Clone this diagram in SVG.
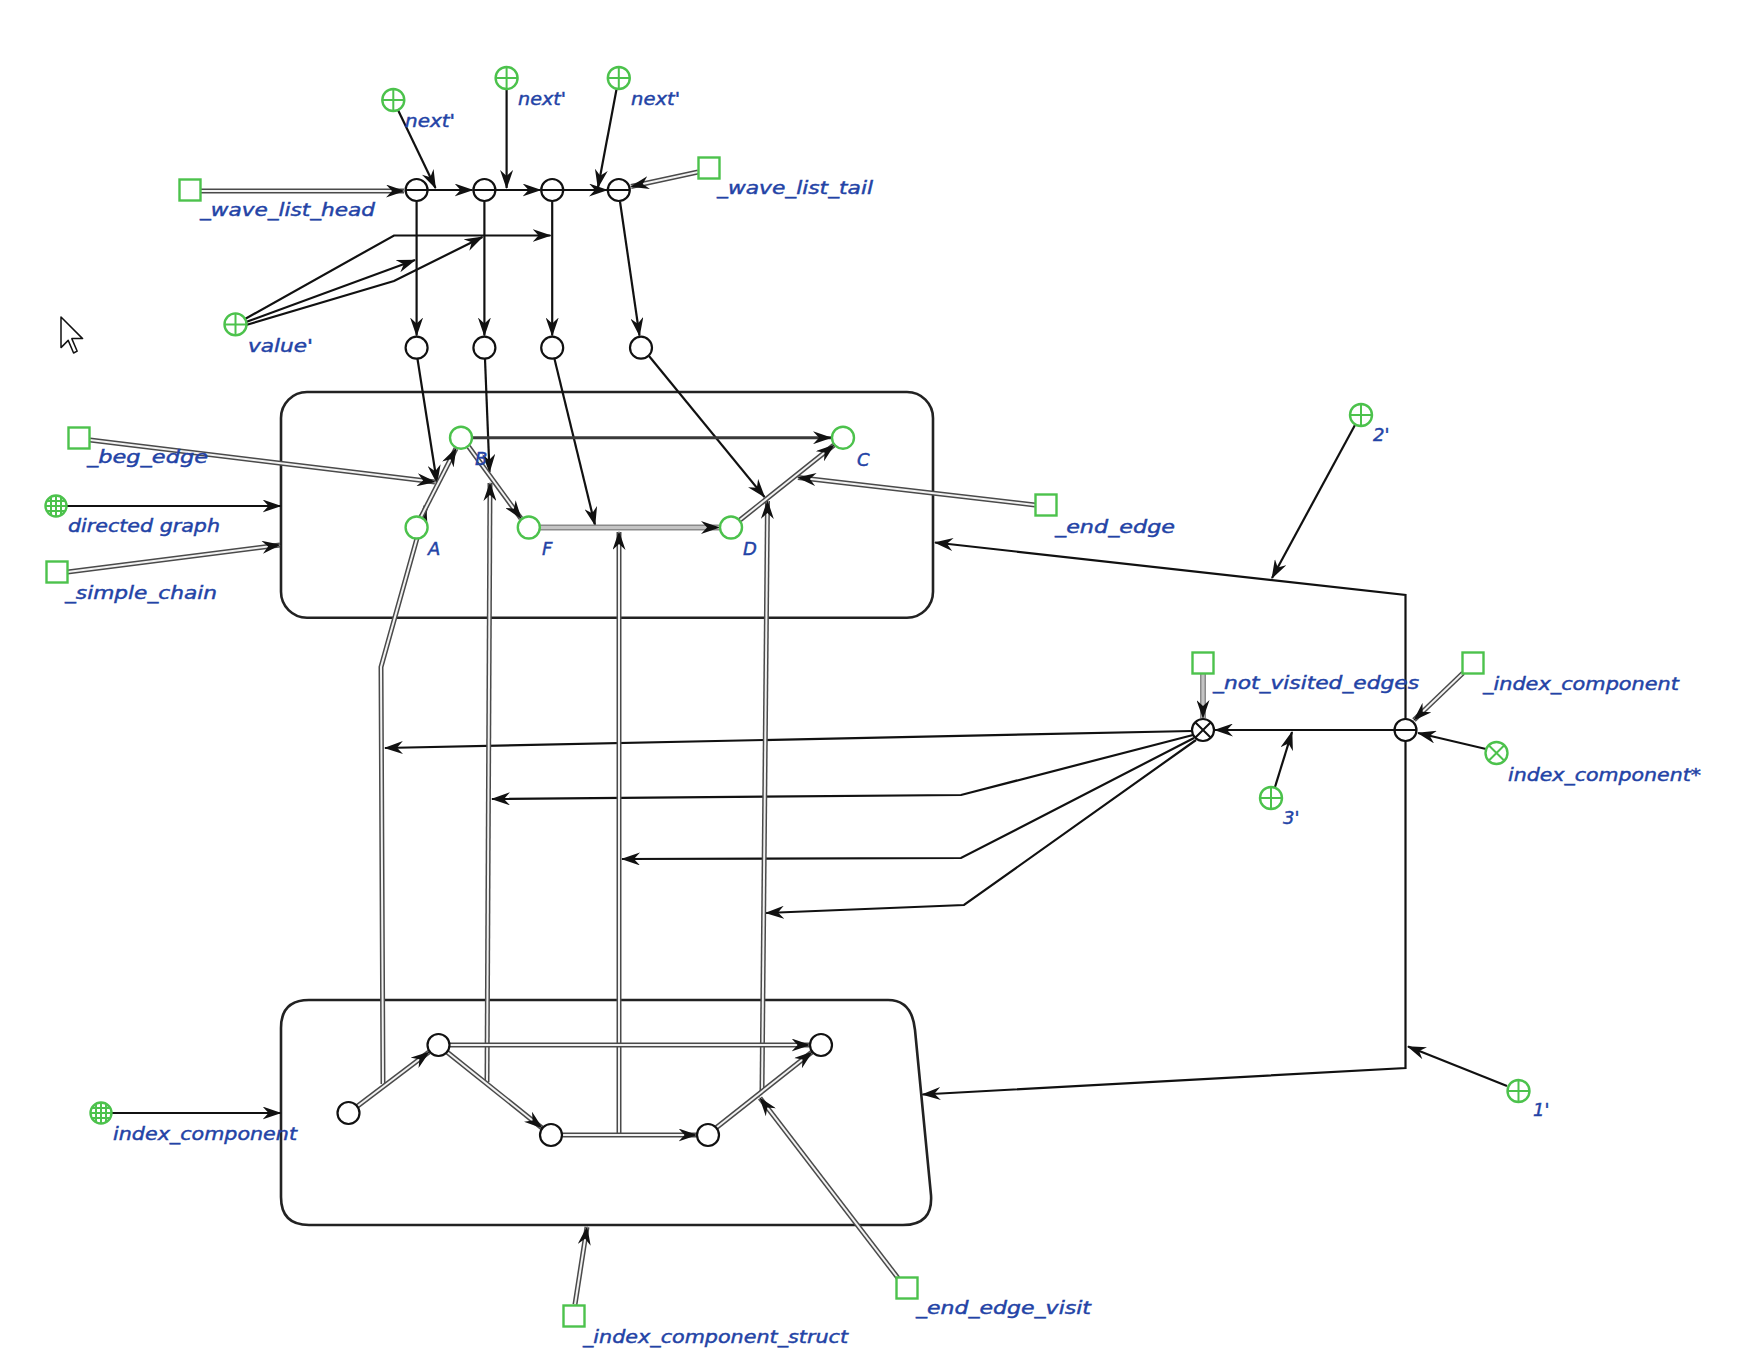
<svg xmlns="http://www.w3.org/2000/svg" xmlns:xlink="http://www.w3.org/1999/xlink" width="1742" height="1366" viewBox="0 0 1742 1366">
<style>
  .gs{fill:#fff;stroke:#4cc24c;stroke-width:2.4}
  .gl{fill:none;stroke:#4cc24c;stroke-width:2}
  .ks{fill:#fff;stroke:#111;stroke-width:2.2}
  .kl{fill:none;stroke:#111;stroke-width:2}
  .box{fill:none;stroke:#222;stroke-width:2.6}
  .lbl{font-family:"DejaVu Sans","Liberation Sans",sans-serif;font-style:italic;font-size:18px;fill:#2343a6;stroke:#2343a6;stroke-width:0.45}
  .arc{fill:none;stroke:#111;stroke-width:2.2;marker-end:url(#ah)}
  .thick{fill:none;stroke:#3a3a3a;stroke-width:3;marker-end:url(#ah)}
  .gO{fill:none;stroke:#8a8a8a;stroke-width:6}
  .gI{fill:none;stroke:#c4c4c4;stroke-width:3}
  .dO{fill:none;stroke:#4a4a4a;stroke-width:5}
  .dI{fill:none;stroke:#f2f2f2;stroke-width:2}
  .mk{fill:none;stroke:none;marker-end:url(#ah)}
</style>
<defs>
  <marker id="ah" markerUnits="userSpaceOnUse" markerWidth="19" markerHeight="13" viewBox="0 0 19 13" refX="18" refY="6.5" orient="auto">
    <path d="M0,0 L19,6.5 L0,13 L6,6.5 Z" fill="#111"/>
  </marker>
  <!-- node glyphs, centred on 0,0 -->
  <g id="i-plus"><circle r="11" class="gs"/><path d="M-11,0H11M0,-11V11" class="gl"/></g>
  <g id="i-xg"><circle r="11" class="gs"/><path d="M-7.8,-7.8L7.8,7.8M-7.8,7.8L7.8,-7.8" class="gl"/></g>
  <g id="i-globe"><circle r="10.5" class="gs"/><path d="M-10.5,0H10.5M0,-10.5V10.5M-9.2,-5H9.2M-9.2,5H9.2M-5,-9.2V9.2M5,-9.2V9.2" class="gl" stroke-width="1.4"/></g>
  <g id="i-sq"><rect x="-10.5" y="-10.5" width="21" height="21" class="gs"/></g>
  <g id="i-ring"><circle r="11" class="gs"/></g>
  <g id="i-minus"><circle r="11" class="ks"/><path d="M-11,0H11" class="kl"/></g>
  <g id="i-xk"><circle r="11" class="ks"/><path d="M-7.8,-7.8L7.8,7.8M-7.8,7.8L7.8,-7.8" class="kl"/></g>
  <g id="i-o"><circle r="11" class="ks"/></g>
  <!-- double-line connector paths -->
  <path id="d1" d="M200.5,191 H404"/>
  <path id="d2" d="M698,172 L631,186.5"/>
  <path id="d3" d="M90,440 L435,482"/>
  <path id="d4" d="M67.5,572 L280,545"/>
  <path id="d5" d="M1035,505 L798,477.5"/>
  <path id="d6" d="M421,517 L456,448.5"/>
  <path id="d7" d="M468.5,446.5 L521,518.5"/>
  <path id="d8" d="M740,520 L834,445"/>
  <path id="d9" d="M357,1106.5 L429,1052"/>
  <path id="d10" d="M447,1052 L542,1128"/>
  <path id="d11" d="M450,1045 H809.5"/>
  <path id="d12" d="M562.5,1135 H696.5"/>
  <path id="d13" d="M716.5,1127.5 L812,1052"/>
  <path id="d14" d="M575,1304.5 L587,1227"/>
  <path id="d15" d="M898,1278 L760,1098"/>
  <path id="d16" d="M383,1084 L381,667 L426,506"/>
  <path id="d17" d="M487,1082 L490,483"/>
  <path id="d18" d="M619,1133 V532"/>
  <path id="d19" d="M762,1092 L767.5,501"/>
  <path id="d20" d="M1463,673 L1414,720"/>
  <path id="g1" d="M540,527.5 H719"/>
  <path id="g2" d="M1203,674 V718"/>
</defs>

<rect width="1742" height="1366" fill="#fff"/>

<!-- containers -->
<g id="graph-box"><rect x="281" y="392" width="652" height="225.7" rx="26" class="box"/></g>
<g id="component-box"><path d="M309,1000 L888,1000 Q912,1000 915,1030 L931,1195 Q933,1225 903,1225 L309,1225 Q281,1225 281,1197 L281,1028 Q281,1000 309,1000 Z" class="box"/></g>

<!-- connectors -->
<g id="connectors">
  <path class="arc" d="M428,190 H472.5"/>
  <path class="arc" d="M496,190 H540.5"/>
  <path class="arc" d="M564,190 H607"/>
  <path class="arc" d="M398,110 L435.5,188"/>
  <path class="arc" d="M506.6,89.5 L506.6,188"/>
  <path class="arc" d="M616.5,89.5 L598,187.5"/>
  <path class="arc" d="M416.6,201.5 V335.5"/>
  <path class="arc" d="M484.4,201.5 V335.5"/>
  <path class="arc" d="M552.2,201.5 V335.5"/>
  <path class="arc" d="M620,201.5 L639.5,335.5"/>
  <path class="arc" d="M245,319 L394,235.5 H550.5"/>
  <path class="arc" d="M246,322 L415,260"/>
  <path class="arc" d="M246,325 L394,281 L482.5,237"/>
  <path class="arc" d="M417.5,359 L437,483"/>
  <path class="arc" d="M485,359 L489.5,472"/>
  <path class="arc" d="M554.5,359 L595,525"/>
  <path class="arc" d="M649,356 L764.5,497"/>
  <path class="arc" d="M67,506 H280.5"/>
  <path class="arc" d="M1355,425 L1272,578"/>
  <path class="arc" d="M1405.5,719 V595 L935,542.5"/>
  <path class="arc" d="M1405.5,741 V1068 L922.5,1094.5"/>
  <path class="arc" d="M1507,1086 L1408,1046.5"/>
  <path class="arc" d="M1394,730 H1215"/>
  <path class="arc" d="M1486,749 L1418,733"/>
  <path class="arc" d="M1275,787 L1292,732"/>
  <path class="arc" d="M1192,731 L385,748"/>
  <path class="arc" d="M1193,735 L961,795 L492,799"/>
  <path class="arc" d="M1194,738 L961,858 L622,859"/>
  <path class="arc" d="M1196,740 L964,905 L766,913"/>
  <path class="arc" d="M112,1113 H280.5"/>
  <path class="thick" d="M473,437.7 H831"/>

  <use xlink:href="#g1" class="gO"/><use xlink:href="#g1" class="gI"/><use xlink:href="#g1" class="mk"/>
  <use xlink:href="#g2" class="gO"/><use xlink:href="#g2" class="gI"/><use xlink:href="#g2" class="mk"/>

  <use xlink:href="#d1" class="dO"/><use xlink:href="#d1" class="dI"/><use xlink:href="#d1" class="mk"/>
  <use xlink:href="#d2" class="dO"/><use xlink:href="#d2" class="dI"/><use xlink:href="#d2" class="mk"/>
  <use xlink:href="#d3" class="dO"/><use xlink:href="#d3" class="dI"/><use xlink:href="#d3" class="mk"/>
  <use xlink:href="#d4" class="dO"/><use xlink:href="#d4" class="dI"/><use xlink:href="#d4" class="mk"/>
  <use xlink:href="#d5" class="dO"/><use xlink:href="#d5" class="dI"/><use xlink:href="#d5" class="mk"/>
  <use xlink:href="#d16" class="dO"/><use xlink:href="#d16" class="dI"/><use xlink:href="#d16" class="mk"/>
  <use xlink:href="#d17" class="dO"/><use xlink:href="#d17" class="dI"/><use xlink:href="#d17" class="mk"/>
  <use xlink:href="#d18" class="dO"/><use xlink:href="#d18" class="dI"/><use xlink:href="#d18" class="mk"/>
  <use xlink:href="#d19" class="dO"/><use xlink:href="#d19" class="dI"/><use xlink:href="#d19" class="mk"/>
  <use xlink:href="#d6" class="dO"/><use xlink:href="#d6" class="dI"/><use xlink:href="#d6" class="mk"/>
  <use xlink:href="#d7" class="dO"/><use xlink:href="#d7" class="dI"/><use xlink:href="#d7" class="mk"/>
  <use xlink:href="#d8" class="dO"/><use xlink:href="#d8" class="dI"/><use xlink:href="#d8" class="mk"/>
  <use xlink:href="#d9" class="dO"/><use xlink:href="#d9" class="dI"/><use xlink:href="#d9" class="mk"/>
  <use xlink:href="#d10" class="dO"/><use xlink:href="#d10" class="dI"/><use xlink:href="#d10" class="mk"/>
  <use xlink:href="#d11" class="dO"/><use xlink:href="#d11" class="dI"/><use xlink:href="#d11" class="mk"/>
  <use xlink:href="#d12" class="dO"/><use xlink:href="#d12" class="dI"/><use xlink:href="#d12" class="mk"/>
  <use xlink:href="#d13" class="dO"/><use xlink:href="#d13" class="dI"/><use xlink:href="#d13" class="mk"/>
  <use xlink:href="#d14" class="dO"/><use xlink:href="#d14" class="dI"/><use xlink:href="#d14" class="mk"/>
  <use xlink:href="#d15" class="dO"/><use xlink:href="#d15" class="dI"/><use xlink:href="#d15" class="mk"/>
  <use xlink:href="#d20" class="dO"/><use xlink:href="#d20" class="dI"/><use xlink:href="#d20" class="mk"/>
</g>

<!-- list cells -->
<g id="wave-list-head"><use xlink:href="#i-sq" x="190" y="190"/><text class="lbl" x="200" y="216" textLength="175" lengthAdjust="spacingAndGlyphs">_wave_list_head</text></g>
<g id="wave-list-tail"><use xlink:href="#i-sq" x="709" y="168"/><text class="lbl" x="717" y="194" textLength="156" lengthAdjust="spacingAndGlyphs">_wave_list_tail</text></g>
<g id="cell-1"><use xlink:href="#i-minus" x="416.6" y="190"/></g>
<g id="cell-2"><use xlink:href="#i-minus" x="484.4" y="190"/></g>
<g id="cell-3"><use xlink:href="#i-minus" x="552.2" y="190"/></g>
<g id="cell-4"><use xlink:href="#i-minus" x="618.8" y="190"/></g>
<g id="next-1"><use xlink:href="#i-plus" x="393.3" y="100"/><text class="lbl" x="405" y="127" textLength="50" lengthAdjust="spacingAndGlyphs">next'</text></g>
<g id="next-2"><use xlink:href="#i-plus" x="506.6" y="78"/><text class="lbl" x="518" y="105" textLength="48" lengthAdjust="spacingAndGlyphs">next'</text></g>
<g id="next-3"><use xlink:href="#i-plus" x="618.8" y="78"/><text class="lbl" x="631" y="105" textLength="49" lengthAdjust="spacingAndGlyphs">next'</text></g>
<g id="value"><use xlink:href="#i-plus" x="235.5" y="324.4"/><text class="lbl" x="248" y="352" textLength="65" lengthAdjust="spacingAndGlyphs">value'</text></g>
<g id="elem-1"><use xlink:href="#i-o" x="416.6" y="347.7"/></g>
<g id="elem-2"><use xlink:href="#i-o" x="484.4" y="347.7"/></g>
<g id="elem-3"><use xlink:href="#i-o" x="552.2" y="347.7"/></g>
<g id="elem-4"><use xlink:href="#i-o" x="641" y="347.7"/></g>

<!-- directed graph vertices -->
<g id="vertex-a"><use xlink:href="#i-ring" x="416.6" y="527.5"/><text class="lbl" x="428" y="555">A</text></g>
<g id="vertex-b"><use xlink:href="#i-ring" x="461" y="437.7"/><text class="lbl" x="475" y="465">B</text></g>
<g id="vertex-f"><use xlink:href="#i-ring" x="528.8" y="527.5"/><text class="lbl" x="542" y="555">F</text></g>
<g id="vertex-d"><use xlink:href="#i-ring" x="731" y="527.5"/><text class="lbl" x="743" y="555">D</text></g>
<g id="vertex-c"><use xlink:href="#i-ring" x="843" y="437.7"/><text class="lbl" x="857" y="466">C</text></g>

<g id="beg-edge"><use xlink:href="#i-sq" x="79" y="438"/><text class="lbl" x="87" y="463" textLength="121" lengthAdjust="spacingAndGlyphs">_beg_edge</text></g>
<g id="directed-graph"><use xlink:href="#i-globe" x="56" y="506"/><text class="lbl" x="68" y="532" textLength="152" lengthAdjust="spacingAndGlyphs">directed graph</text></g>
<g id="simple-chain"><use xlink:href="#i-sq" x="57" y="572"/><text class="lbl" x="65" y="599" textLength="152" lengthAdjust="spacingAndGlyphs">_simple_chain</text></g>
<g id="end-edge"><use xlink:href="#i-sq" x="1046" y="505"/><text class="lbl" x="1055" y="533" textLength="120" lengthAdjust="spacingAndGlyphs">_end_edge</text></g>
<g id="pos-2"><use xlink:href="#i-plus" x="1361" y="415"/><text class="lbl" x="1373" y="441">2'</text></g>

<!-- component bookkeeping -->
<g id="not-visited-edges"><use xlink:href="#i-sq" x="1203" y="663"/><text class="lbl" x="1213" y="689" textLength="206" lengthAdjust="spacingAndGlyphs">_not_visited_edges</text></g>
<g id="not-visited-set"><use xlink:href="#i-xk" x="1203" y="730"/></g>
<g id="index-component-var"><use xlink:href="#i-sq" x="1473" y="663"/><text class="lbl" x="1483" y="690" textLength="196" lengthAdjust="spacingAndGlyphs">_index_component</text></g>
<g id="index-component-cell"><use xlink:href="#i-minus" x="1405.5" y="730"/></g>
<g id="index-component-star"><use xlink:href="#i-xg" x="1496.5" y="753"/><text class="lbl" x="1508" y="781" textLength="193" lengthAdjust="spacingAndGlyphs">index_component*</text></g>
<g id="pos-3"><use xlink:href="#i-plus" x="1271" y="798"/><text class="lbl" x="1283" y="824">3'</text></g>
<g id="pos-1"><use xlink:href="#i-plus" x="1518.5" y="1091"/><text class="lbl" x="1533" y="1116">1'</text></g>

<!-- component vertices -->
<g id="comp-1"><use xlink:href="#i-o" x="348.5" y="1113"/></g>
<g id="comp-2"><use xlink:href="#i-o" x="438.5" y="1045"/></g>
<g id="comp-3"><use xlink:href="#i-o" x="551" y="1135"/></g>
<g id="comp-4"><use xlink:href="#i-o" x="708" y="1135"/></g>
<g id="comp-5"><use xlink:href="#i-o" x="821" y="1045"/></g>

<g id="index-component"><use xlink:href="#i-globe" x="101" y="1113"/><text class="lbl" x="113" y="1140" textLength="184" lengthAdjust="spacingAndGlyphs">index_component</text></g>
<g id="index-component-struct"><use xlink:href="#i-sq" x="574" y="1316"/><text class="lbl" x="583" y="1343" textLength="265" lengthAdjust="spacingAndGlyphs">_index_component_struct</text></g>
<g id="end-edge-visit"><use xlink:href="#i-sq" x="907" y="1288"/><text class="lbl" x="916" y="1314" textLength="175" lengthAdjust="spacingAndGlyphs">_end_edge_visit</text></g>

<!-- mouse pointer -->
<path d="M61,317 L61,347.6 L68.2,340.4 L73.6,353 L77.2,351.2 L71.8,338.6 L82.6,338.6 Z" fill="#fff" stroke="#111" stroke-width="1.5" stroke-linejoin="round"/>
</svg>
